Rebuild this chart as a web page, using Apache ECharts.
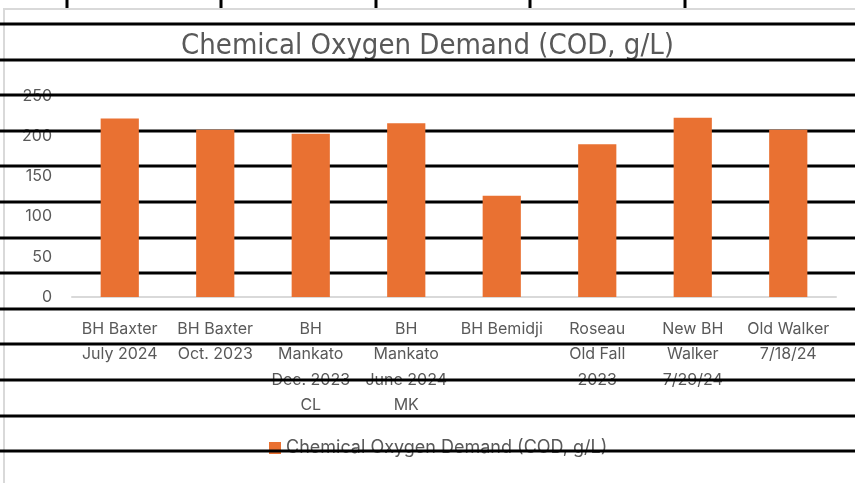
<!DOCTYPE html>
<html>
<head>
<meta charset="utf-8">
<script src="https://cdn.jsdelivr.net/npm/echarts@6/dist/echarts.min.js"></script>
<style>
  html, body { margin: 0; padding: 0; background: #fff; }
  #chart { width: 855px; height: 483px; }
</style>
</head>
<body>
<div id="chart"></div>
<script>
// chart data
var categories = [
    'BH Baxter\nJuly 2024',
    'BH Baxter\nOct. 2023',
    'BH\nMankato\nDec. 2023\nCL',
    'BH\nMankato\nJune 2024\nMK',
    'BH Bemidji',
    'Roseau\nOld Fall\n2023',
    'New BH\nWalker\n7/29/24',
    'Old Walker\n7/18/24'
];
var codValues = [222, 208, 203, 216, 126, 190, 223, 208];
var seriesName = 'Chemical Oxygen Demand (COD, g/L)';
var yTicks = [0, 50, 100, 150, 200, 250];

var textColor = '#595959';
var uiFont = 'Inter, Roboto, "Liberation Sans", sans-serif';

// spreadsheet cell borders showing through behind the chart
function sheetLines() {
    var els = [];
    // chart frame (light gray)
    els.push({
        type: 'rect', z: 1,
        shape: { x: 4, y: 9, width: 900, height: 520 },
        style: { fill: 'none', stroke: '#d9d9d9', lineWidth: 2 }
    });
    for (var i = 0; i < 13; i++) {
        var y = Math.round(24 + i * 35.6);
        els.push({
            type: 'line', z: 10,
            shape: { x1: 0, y1: y, x2: 855, y2: y },
            style: { stroke: '#000', lineWidth: 3 }
        });
    }
    [67, 221, 376, 530, 685].forEach(function (x) {
        els.push({
            type: 'line', z: 10,
            shape: { x1: x, y1: 0, x2: x, y2: 8 },
            style: { stroke: '#000', lineWidth: 3 }
        });
    });
    return els;
}

var chart = echarts.init(document.getElementById('chart'));
chart.setOption({
    animation: false,
    title: {
        text: seriesName,
        left: 'center',
        top: 27,
        textStyle: {
            fontFamily: '"Liberation Sans Narrow", "Arial Narrow", "DejaVu Sans Condensed", sans-serif',
            fontSize: 29,
            fontWeight: 'normal',
            color: textColor
        }
    },
    legend: {
        bottom: 21,
        left: 264,
        icon: 'rect',
        itemWidth: 12,
        itemHeight: 12,
        itemGap: 6,
        textStyle: { fontFamily: uiFont, fontSize: 18, color: textColor }
    },
    grid: { left: 72, right: 19, top: 96, bottom: 186 },
    xAxis: {
        type: 'category',
        data: categories,
        axisTick: { show: false },
        axisLine: { lineStyle: { color: '#d9d9d9', width: 2 } },
        axisLabel: {
            interval: 0,
            margin: 19,
            lineHeight: 25.5,
            fontFamily: uiFont,
            fontSize: 16,
            color: textColor
        }
    },
    yAxis: {
        type: 'value',
        min: yTicks[0],
        max: yTicks[yTicks.length - 1],
        interval: 50,
        splitLine: { show: false },
        axisLine: { show: false },
        axisTick: { show: false },
        axisLabel: {
            margin: 20,
            fontFamily: uiFont,
            fontSize: 16,
            color: textColor
        }
    },
    series: [{
        name: seriesName,
        type: 'bar',
        z: 20,
        data: codValues,
        barWidth: '40%',
        itemStyle: { color: '#E97132' }
    }],
    graphic: sheetLines()
});
</script>
</body>
</html>
